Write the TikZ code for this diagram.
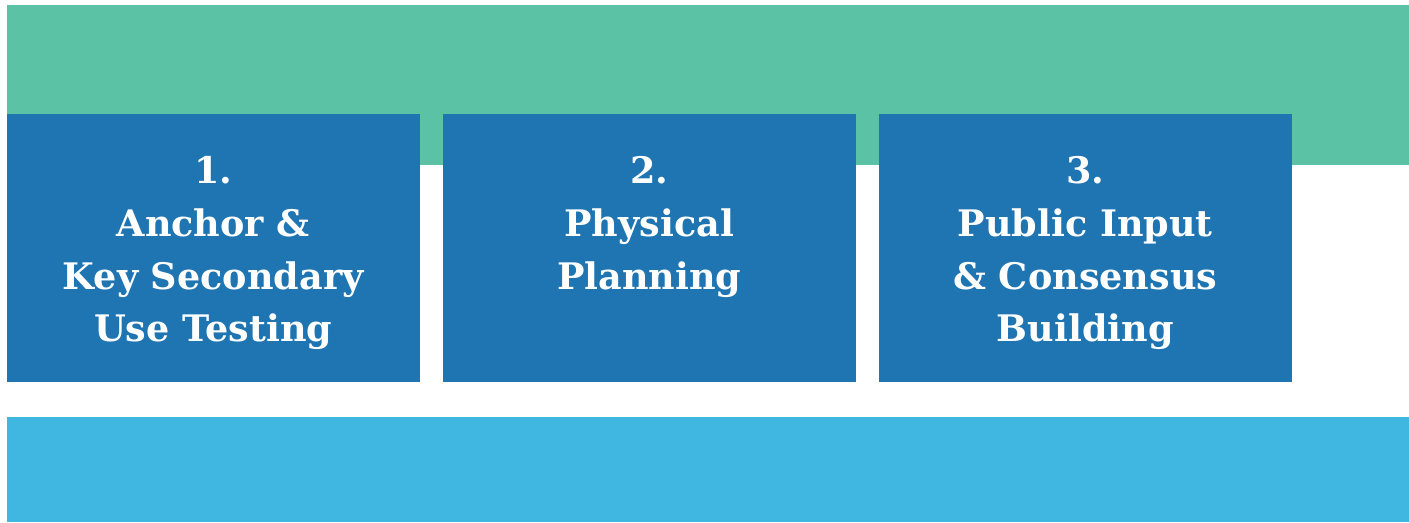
\documentclass[tikz,border=0pt]{standalone}
\usepackage{fontspec}
\setmainfont{DejaVu Serif}
\usepackage{tikz}
\usetikzlibrary{positioning}

\definecolor{bandgreen}{HTML}{5CC2A5}
\definecolor{stepblue}{HTML}{1F75B2}
\definecolor{bandblue}{HTML}{3FB7E0}

\tikzset{
  stepbox/.style={fill=stepblue,draw=none,inner sep=0pt,minimum width=4.13cm,minimum height=2.68cm,anchor=north west},
  steptext/.style={text=white,font=\bfseries\fontsize{10.4}{15}\selectfont,align=center,anchor=north,inner sep=0pt}
}

\begin{document}
\begin{tikzpicture}
      \useasboundingbox (0,0) rectangle (14.09,5.22);

      % bands
      \fill[bandgreen] (0.07,3.57) rectangle (14.09,5.17);
      \fill[bandblue] (0.07,0) rectangle (14.09,1.05);

      % steps
      \node[stepbox] (anchorbox) at (0.06,4.09) {};
      \node[stepbox] (physbox) at (4.42,4.09) {};
      \node[stepbox] (publicbox) at (8.78,4.09) {};

      \node[steptext,below=0.43cm of anchorbox.north] (anchortext) {1.\\Anchor \&\\Key Secondary\\Use Testing};
      \node[steptext,below=0.43cm of physbox.north] (phystext) {2.\\Physical\\Planning};
      \node[steptext,below=0.43cm of publicbox.north] (publictext) {3.\\Public Input\\\& Consensus\\Building};

\end{tikzpicture}
\end{document}
